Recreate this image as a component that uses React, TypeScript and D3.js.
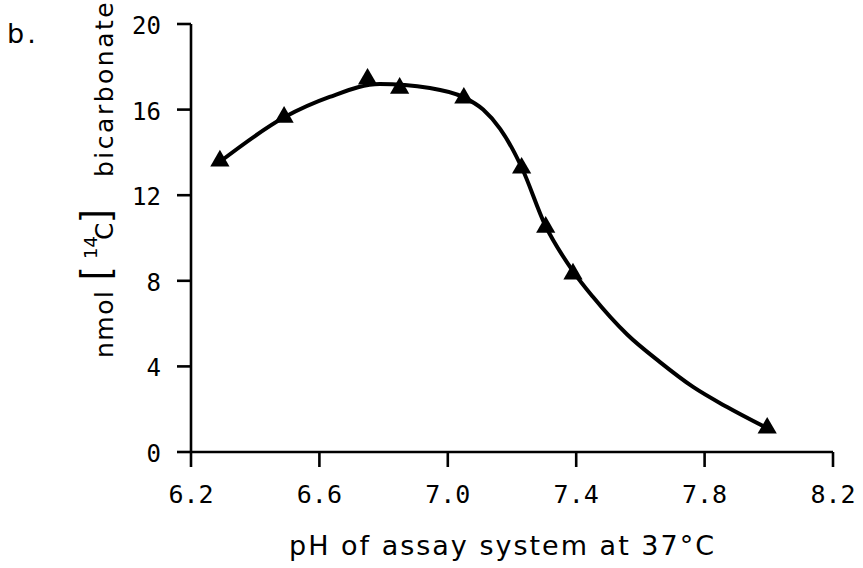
import * as d3 from "d3";
import React from "react";

// measured points (pH, nmol)
const pointPH = [6.29, 6.49, 6.75, 6.85, 7.05, 7.23, 7.305, 7.39, 7.995];
const pointValue = [13.6, 15.65, 17.43, 17.0, 16.54, 13.27, 10.51, 8.32, 1.12];

// hand-drawn smooth curve through the data
const curvePH = [6.289, 6.492, 6.632, 6.788, 6.944, 7.047, 7.11, 7.163, 7.2, 7.231, 7.303, 7.392, 7.452, 7.558, 7.661, 7.764, 7.87, 7.994];
const curveValue = [13.55, 15.65, 16.59, 17.2, 17.01, 16.59, 16.0, 15.1, 14.2, 13.27, 10.61, 8.41, 7.25, 5.5, 4.2, 3.04, 2.1, 1.12];

const xTicks = [6.2, 6.6, 7.0, 7.4, 7.8, 8.2];
const yTicks = [0, 4, 8, 12, 16, 20];

const width = 863;
const height = 568;

const App: React.FC = () => {
    const x = d3.scaleLinear().domain([6.2, 8.2]).range([191, 833]);
    const y = d3.scaleLinear().domain([0, 20]).range([452, 24]);

    const line = d3.line<number>()
        .x((_, i) => x(curvePH[i]))
        .y(d => y(d))
        .curve(d3.curveMonotoneX);

    const tri = d3.symbol().type(d3.symbolTriangle).size(160)()!;
    const fmt = d3.format(".1f");
    const mono = "'DejaVu Sans Mono', monospace";
    const sans = "'DejaVu Sans', sans-serif";

    return (
        <svg width={width} height={height} style={{ position: "absolute", left: 0, top: 0, background: "white" }}>
            <text x={7} y={43} fontFamily={sans} fontSize={27} letterSpacing={3}>b.</text>

            {/* axes */}
            <g stroke="black" strokeWidth={2.6} fill="none">
                <line x1={x(6.2)} x2={x(6.2)} y1={y(20)} y2={y(0)} />
                <line x1={x(6.2)} x2={x(8.2)} y1={y(0)} y2={y(0)} />
                {yTicks.map(t => (
                    <line key={t} x1={x(6.2) - 14} x2={x(6.2)} y1={y(t)} y2={y(t)} />
                ))}
                {xTicks.map(t => (
                    <line key={t} x1={x(t)} x2={x(t)} y1={y(0)} y2={y(0) + 15} />
                ))}
            </g>
            {yTicks.map(t => (
                <text key={t} x={161} y={y(t) + 10} textAnchor="end" fontFamily={mono} fontSize={24}>{t}</text>
            ))}
            {xTicks.map(t => (
                <text key={t} x={x(t)} y={503} textAnchor="middle" fontFamily={mono} fontSize={25}>{fmt(t)}</text>
            ))}

            <text x={289} y={555} fontFamily={sans} fontSize={27} letterSpacing={2}>pH of assay system at 37°C</text>

            <g transform="translate(113, 358) rotate(-90)" fontFamily={sans}>
                <text x={0} y={0} fontSize={25} letterSpacing={1.5}>nmol</text>
                <text x={78} y={-6} fontSize={38} fontFamily="'Liberation Sans', sans-serif">[</text>
                <text x={99} y={-16} fontSize={18}>14</text>
                <text x={118} y={0} fontSize={25}>C</text>
                <text x={138} y={-6} fontSize={38} fontFamily="'Liberation Sans', sans-serif">]</text>
                <text x={181} y={0} fontSize={25} letterSpacing={2.5}>bicarbonate</text>
            </g>

            <path d={line(curveValue) ?? ""} fill="none" stroke="black" strokeWidth={4} />
            {pointPH.map((p, i) => (
                <path key={i} d={tri} transform={`translate(${x(p)}, ${y(pointValue[i])})`} fill="black" />
            ))}
        </svg>
    );
};

export default App;
